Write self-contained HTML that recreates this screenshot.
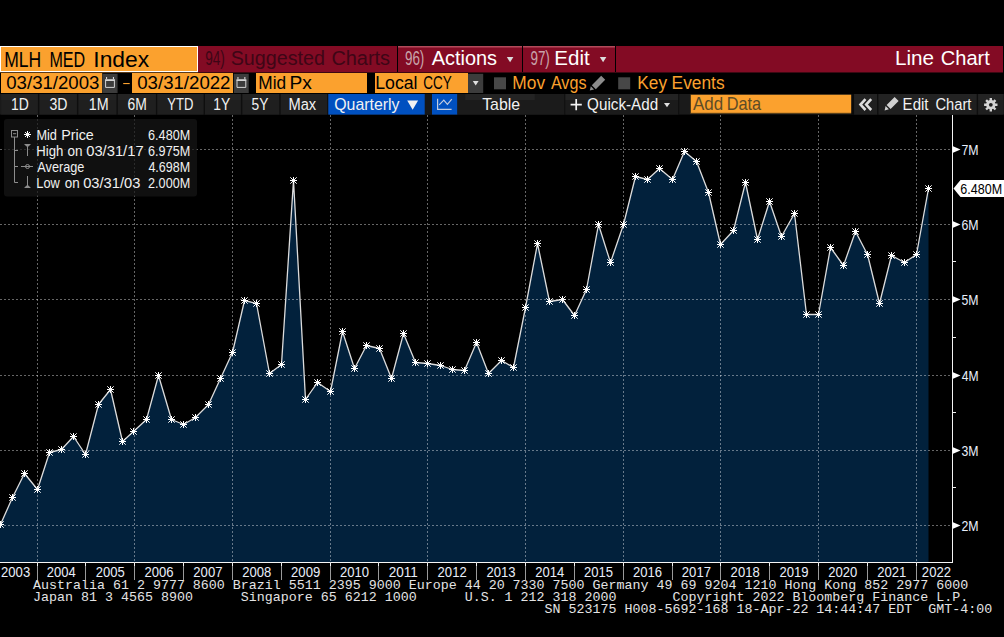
<!DOCTYPE html>
<html><head><meta charset="utf-8"><style>html,body{margin:0;padding:0;background:#000;}body{width:1004px;height:637px;position:relative;overflow:hidden;}text{white-space:pre;}</style></head><body>
<svg width="1004" height="637" viewBox="0 0 1004 637" style="position:absolute;left:0;top:0;font-family:'Liberation Sans',sans-serif"><path d="M0,562.0 L0,524.5 L0.5,524.5 L12.5,497.5 L24.5,473.5 L37.5,489.5 L49.5,452.5 L61.5,449.5 L73.5,436.5 L85.5,454.5 L98.5,404.5 L110.5,389.5 L122.5,441.5 L133.5,431.5 L146.5,419.5 L158.5,375.5 L171.5,419.5 L183.5,424.5 L195.5,417.5 L208.5,404.5 L220.5,378.5 L232.5,352.5 L244.5,300.5 L256.5,303.5 L269.5,373.5 L281.5,364.5 L293.5,180.5 L305.5,399.5 L317.5,382.5 L330.5,391.5 L342.5,331.5 L354.5,368.5 L366.5,345.5 L379.5,348.5 L391.5,378.5 L403.5,333.5 L415.5,362.5 L427.5,363.5 L440.5,365.5 L452.5,369.5 L464.5,370.5 L476.5,342.5 L488.5,373.5 L501.5,360.5 L513.5,367.5 L525.5,307.5 L537.5,243.5 L549.5,301.5 L562.5,299.5 L574.5,315.5 L586.5,289.5 L598.5,224.5 L610.5,262.5 L623.5,224.5 L635.5,176.5 L647.5,179.5 L659.5,168.5 L672.5,179.5 L684.5,151.5 L696.5,161.5 L708.5,192.5 L720.5,244.5 L733.5,230.5 L745.5,182.5 L757.5,239.5 L769.5,201.5 L781.5,236.5 L794.5,213.5 L806.5,314.5 L818.5,314.5 L830.5,247.5 L843.5,265.5 L855.5,231.5 L867.5,254.5 L879.5,303.5 L891.5,255.5 L904.5,262.5 L916.5,254.5 L928.5,188.5 L928.5,562.0 Z" fill="#02213c"/>
<path d="M0,149.5H952.0M0,224.5H952.0M0,299.5H952.0M0,375.5H952.0M0,450.5H952.0M0,525.5H952.0M37.5,115V562.0M134.5,115V562.0M232.5,115V562.0M330.5,115V562.0M427.5,115V562.0M525.5,115V562.0M623.5,115V562.0M720.5,115V562.0M818.5,115V562.0M916.5,115V562.0" stroke="#fff" stroke-opacity="0.4" stroke-width="1" stroke-dasharray="2 2" fill="none"/>
<polyline points="0.5,524.5 12.5,497.5 24.5,473.5 37.5,489.5 49.5,452.5 61.5,449.5 73.5,436.5 85.5,454.5 98.5,404.5 110.5,389.5 122.5,441.5 133.5,431.5 146.5,419.5 158.5,375.5 171.5,419.5 183.5,424.5 195.5,417.5 208.5,404.5 220.5,378.5 232.5,352.5 244.5,300.5 256.5,303.5 269.5,373.5 281.5,364.5 293.5,180.5 305.5,399.5 317.5,382.5 330.5,391.5 342.5,331.5 354.5,368.5 366.5,345.5 379.5,348.5 391.5,378.5 403.5,333.5 415.5,362.5 427.5,363.5 440.5,365.5 452.5,369.5 464.5,370.5 476.5,342.5 488.5,373.5 501.5,360.5 513.5,367.5 525.5,307.5 537.5,243.5 549.5,301.5 562.5,299.5 574.5,315.5 586.5,289.5 598.5,224.5 610.5,262.5 623.5,224.5 635.5,176.5 647.5,179.5 659.5,168.5 672.5,179.5 684.5,151.5 696.5,161.5 708.5,192.5 720.5,244.5 733.5,230.5 745.5,182.5 757.5,239.5 769.5,201.5 781.5,236.5 794.5,213.5 806.5,314.5 818.5,314.5 830.5,247.5 843.5,265.5 855.5,231.5 867.5,254.5 879.5,303.5 891.5,255.5 904.5,262.5 916.5,254.5 928.5,188.5" fill="none" stroke="#dcdcdc" stroke-width="1.3" stroke-linejoin="round"/>
<path d="M-3.0,524.5h7M0.5,521.0v7M-2.7,521.3l6.4,6.4M-2.7,527.7l6.4,-6.4M9.0,497.5h7M12.5,494.0v7M9.3,494.3l6.4,6.4M9.3,500.7l6.4,-6.4M21.0,473.5h7M24.5,470.0v7M21.3,470.3l6.4,6.4M21.3,476.7l6.4,-6.4M34.0,489.5h7M37.5,486.0v7M34.3,486.3l6.4,6.4M34.3,492.7l6.4,-6.4M46.0,452.5h7M49.5,449.0v7M46.3,449.3l6.4,6.4M46.3,455.7l6.4,-6.4M58.0,449.5h7M61.5,446.0v7M58.3,446.3l6.4,6.4M58.3,452.7l6.4,-6.4M70.0,436.5h7M73.5,433.0v7M70.3,433.3l6.4,6.4M70.3,439.7l6.4,-6.4M82.0,454.5h7M85.5,451.0v7M82.3,451.3l6.4,6.4M82.3,457.7l6.4,-6.4M95.0,404.5h7M98.5,401.0v7M95.3,401.3l6.4,6.4M95.3,407.7l6.4,-6.4M107.0,389.5h7M110.5,386.0v7M107.3,386.3l6.4,6.4M107.3,392.7l6.4,-6.4M119.0,441.5h7M122.5,438.0v7M119.3,438.3l6.4,6.4M119.3,444.7l6.4,-6.4M130.0,431.5h7M133.5,428.0v7M130.3,428.3l6.4,6.4M130.3,434.7l6.4,-6.4M143.0,419.5h7M146.5,416.0v7M143.3,416.3l6.4,6.4M143.3,422.7l6.4,-6.4M155.0,375.5h7M158.5,372.0v7M155.3,372.3l6.4,6.4M155.3,378.7l6.4,-6.4M168.0,419.5h7M171.5,416.0v7M168.3,416.3l6.4,6.4M168.3,422.7l6.4,-6.4M180.0,424.5h7M183.5,421.0v7M180.3,421.3l6.4,6.4M180.3,427.7l6.4,-6.4M192.0,417.5h7M195.5,414.0v7M192.3,414.3l6.4,6.4M192.3,420.7l6.4,-6.4M205.0,404.5h7M208.5,401.0v7M205.3,401.3l6.4,6.4M205.3,407.7l6.4,-6.4M217.0,378.5h7M220.5,375.0v7M217.3,375.3l6.4,6.4M217.3,381.7l6.4,-6.4M229.0,352.5h7M232.5,349.0v7M229.3,349.3l6.4,6.4M229.3,355.7l6.4,-6.4M241.0,300.5h7M244.5,297.0v7M241.3,297.3l6.4,6.4M241.3,303.7l6.4,-6.4M253.0,303.5h7M256.5,300.0v7M253.3,300.3l6.4,6.4M253.3,306.7l6.4,-6.4M266.0,373.5h7M269.5,370.0v7M266.3,370.3l6.4,6.4M266.3,376.7l6.4,-6.4M278.0,364.5h7M281.5,361.0v7M278.3,361.3l6.4,6.4M278.3,367.7l6.4,-6.4M290.0,180.5h7M293.5,177.0v7M290.3,177.3l6.4,6.4M290.3,183.7l6.4,-6.4M302.0,399.5h7M305.5,396.0v7M302.3,396.3l6.4,6.4M302.3,402.7l6.4,-6.4M314.0,382.5h7M317.5,379.0v7M314.3,379.3l6.4,6.4M314.3,385.7l6.4,-6.4M327.0,391.5h7M330.5,388.0v7M327.3,388.3l6.4,6.4M327.3,394.7l6.4,-6.4M339.0,331.5h7M342.5,328.0v7M339.3,328.3l6.4,6.4M339.3,334.7l6.4,-6.4M351.0,368.5h7M354.5,365.0v7M351.3,365.3l6.4,6.4M351.3,371.7l6.4,-6.4M363.0,345.5h7M366.5,342.0v7M363.3,342.3l6.4,6.4M363.3,348.7l6.4,-6.4M376.0,348.5h7M379.5,345.0v7M376.3,345.3l6.4,6.4M376.3,351.7l6.4,-6.4M388.0,378.5h7M391.5,375.0v7M388.3,375.3l6.4,6.4M388.3,381.7l6.4,-6.4M400.0,333.5h7M403.5,330.0v7M400.3,330.3l6.4,6.4M400.3,336.7l6.4,-6.4M412.0,362.5h7M415.5,359.0v7M412.3,359.3l6.4,6.4M412.3,365.7l6.4,-6.4M424.0,363.5h7M427.5,360.0v7M424.3,360.3l6.4,6.4M424.3,366.7l6.4,-6.4M437.0,365.5h7M440.5,362.0v7M437.3,362.3l6.4,6.4M437.3,368.7l6.4,-6.4M449.0,369.5h7M452.5,366.0v7M449.3,366.3l6.4,6.4M449.3,372.7l6.4,-6.4M461.0,370.5h7M464.5,367.0v7M461.3,367.3l6.4,6.4M461.3,373.7l6.4,-6.4M473.0,342.5h7M476.5,339.0v7M473.3,339.3l6.4,6.4M473.3,345.7l6.4,-6.4M485.0,373.5h7M488.5,370.0v7M485.3,370.3l6.4,6.4M485.3,376.7l6.4,-6.4M498.0,360.5h7M501.5,357.0v7M498.3,357.3l6.4,6.4M498.3,363.7l6.4,-6.4M510.0,367.5h7M513.5,364.0v7M510.3,364.3l6.4,6.4M510.3,370.7l6.4,-6.4M522.0,307.5h7M525.5,304.0v7M522.3,304.3l6.4,6.4M522.3,310.7l6.4,-6.4M534.0,243.5h7M537.5,240.0v7M534.3,240.3l6.4,6.4M534.3,246.7l6.4,-6.4M546.0,301.5h7M549.5,298.0v7M546.3,298.3l6.4,6.4M546.3,304.7l6.4,-6.4M559.0,299.5h7M562.5,296.0v7M559.3,296.3l6.4,6.4M559.3,302.7l6.4,-6.4M571.0,315.5h7M574.5,312.0v7M571.3,312.3l6.4,6.4M571.3,318.7l6.4,-6.4M583.0,289.5h7M586.5,286.0v7M583.3,286.3l6.4,6.4M583.3,292.7l6.4,-6.4M595.0,224.5h7M598.5,221.0v7M595.3,221.3l6.4,6.4M595.3,227.7l6.4,-6.4M607.0,262.5h7M610.5,259.0v7M607.3,259.3l6.4,6.4M607.3,265.7l6.4,-6.4M620.0,224.5h7M623.5,221.0v7M620.3,221.3l6.4,6.4M620.3,227.7l6.4,-6.4M632.0,176.5h7M635.5,173.0v7M632.3,173.3l6.4,6.4M632.3,179.7l6.4,-6.4M644.0,179.5h7M647.5,176.0v7M644.3,176.3l6.4,6.4M644.3,182.7l6.4,-6.4M656.0,168.5h7M659.5,165.0v7M656.3,165.3l6.4,6.4M656.3,171.7l6.4,-6.4M669.0,179.5h7M672.5,176.0v7M669.3,176.3l6.4,6.4M669.3,182.7l6.4,-6.4M681.0,151.5h7M684.5,148.0v7M681.3,148.3l6.4,6.4M681.3,154.7l6.4,-6.4M693.0,161.5h7M696.5,158.0v7M693.3,158.3l6.4,6.4M693.3,164.7l6.4,-6.4M705.0,192.5h7M708.5,189.0v7M705.3,189.3l6.4,6.4M705.3,195.7l6.4,-6.4M717.0,244.5h7M720.5,241.0v7M717.3,241.3l6.4,6.4M717.3,247.7l6.4,-6.4M730.0,230.5h7M733.5,227.0v7M730.3,227.3l6.4,6.4M730.3,233.7l6.4,-6.4M742.0,182.5h7M745.5,179.0v7M742.3,179.3l6.4,6.4M742.3,185.7l6.4,-6.4M754.0,239.5h7M757.5,236.0v7M754.3,236.3l6.4,6.4M754.3,242.7l6.4,-6.4M766.0,201.5h7M769.5,198.0v7M766.3,198.3l6.4,6.4M766.3,204.7l6.4,-6.4M778.0,236.5h7M781.5,233.0v7M778.3,233.3l6.4,6.4M778.3,239.7l6.4,-6.4M791.0,213.5h7M794.5,210.0v7M791.3,210.3l6.4,6.4M791.3,216.7l6.4,-6.4M803.0,314.5h7M806.5,311.0v7M803.3,311.3l6.4,6.4M803.3,317.7l6.4,-6.4M815.0,314.5h7M818.5,311.0v7M815.3,311.3l6.4,6.4M815.3,317.7l6.4,-6.4M827.0,247.5h7M830.5,244.0v7M827.3,244.3l6.4,6.4M827.3,250.7l6.4,-6.4M840.0,265.5h7M843.5,262.0v7M840.3,262.3l6.4,6.4M840.3,268.7l6.4,-6.4M852.0,231.5h7M855.5,228.0v7M852.3,228.3l6.4,6.4M852.3,234.7l6.4,-6.4M864.0,254.5h7M867.5,251.0v7M864.3,251.3l6.4,6.4M864.3,257.7l6.4,-6.4M876.0,303.5h7M879.5,300.0v7M876.3,300.3l6.4,6.4M876.3,306.7l6.4,-6.4M888.0,255.5h7M891.5,252.0v7M888.3,252.3l6.4,6.4M888.3,258.7l6.4,-6.4M901.0,262.5h7M904.5,259.0v7M901.3,259.3l6.4,6.4M901.3,265.7l6.4,-6.4M913.0,254.5h7M916.5,251.0v7M913.3,251.3l6.4,6.4M913.3,257.7l6.4,-6.4M925.0,188.5h7M928.5,185.0v7M925.3,185.3l6.4,6.4M925.3,191.7l6.4,-6.4" stroke="#fff" stroke-width="1" fill="none"/>
<g fill="#fff"><circle cx="0.5" cy="524.5" r="1.6"/><circle cx="12.5" cy="497.5" r="1.6"/><circle cx="24.5" cy="473.5" r="1.6"/><circle cx="37.5" cy="489.5" r="1.6"/><circle cx="49.5" cy="452.5" r="1.6"/><circle cx="61.5" cy="449.5" r="1.6"/><circle cx="73.5" cy="436.5" r="1.6"/><circle cx="85.5" cy="454.5" r="1.6"/><circle cx="98.5" cy="404.5" r="1.6"/><circle cx="110.5" cy="389.5" r="1.6"/><circle cx="122.5" cy="441.5" r="1.6"/><circle cx="133.5" cy="431.5" r="1.6"/><circle cx="146.5" cy="419.5" r="1.6"/><circle cx="158.5" cy="375.5" r="1.6"/><circle cx="171.5" cy="419.5" r="1.6"/><circle cx="183.5" cy="424.5" r="1.6"/><circle cx="195.5" cy="417.5" r="1.6"/><circle cx="208.5" cy="404.5" r="1.6"/><circle cx="220.5" cy="378.5" r="1.6"/><circle cx="232.5" cy="352.5" r="1.6"/><circle cx="244.5" cy="300.5" r="1.6"/><circle cx="256.5" cy="303.5" r="1.6"/><circle cx="269.5" cy="373.5" r="1.6"/><circle cx="281.5" cy="364.5" r="1.6"/><circle cx="293.5" cy="180.5" r="1.6"/><circle cx="305.5" cy="399.5" r="1.6"/><circle cx="317.5" cy="382.5" r="1.6"/><circle cx="330.5" cy="391.5" r="1.6"/><circle cx="342.5" cy="331.5" r="1.6"/><circle cx="354.5" cy="368.5" r="1.6"/><circle cx="366.5" cy="345.5" r="1.6"/><circle cx="379.5" cy="348.5" r="1.6"/><circle cx="391.5" cy="378.5" r="1.6"/><circle cx="403.5" cy="333.5" r="1.6"/><circle cx="415.5" cy="362.5" r="1.6"/><circle cx="427.5" cy="363.5" r="1.6"/><circle cx="440.5" cy="365.5" r="1.6"/><circle cx="452.5" cy="369.5" r="1.6"/><circle cx="464.5" cy="370.5" r="1.6"/><circle cx="476.5" cy="342.5" r="1.6"/><circle cx="488.5" cy="373.5" r="1.6"/><circle cx="501.5" cy="360.5" r="1.6"/><circle cx="513.5" cy="367.5" r="1.6"/><circle cx="525.5" cy="307.5" r="1.6"/><circle cx="537.5" cy="243.5" r="1.6"/><circle cx="549.5" cy="301.5" r="1.6"/><circle cx="562.5" cy="299.5" r="1.6"/><circle cx="574.5" cy="315.5" r="1.6"/><circle cx="586.5" cy="289.5" r="1.6"/><circle cx="598.5" cy="224.5" r="1.6"/><circle cx="610.5" cy="262.5" r="1.6"/><circle cx="623.5" cy="224.5" r="1.6"/><circle cx="635.5" cy="176.5" r="1.6"/><circle cx="647.5" cy="179.5" r="1.6"/><circle cx="659.5" cy="168.5" r="1.6"/><circle cx="672.5" cy="179.5" r="1.6"/><circle cx="684.5" cy="151.5" r="1.6"/><circle cx="696.5" cy="161.5" r="1.6"/><circle cx="708.5" cy="192.5" r="1.6"/><circle cx="720.5" cy="244.5" r="1.6"/><circle cx="733.5" cy="230.5" r="1.6"/><circle cx="745.5" cy="182.5" r="1.6"/><circle cx="757.5" cy="239.5" r="1.6"/><circle cx="769.5" cy="201.5" r="1.6"/><circle cx="781.5" cy="236.5" r="1.6"/><circle cx="794.5" cy="213.5" r="1.6"/><circle cx="806.5" cy="314.5" r="1.6"/><circle cx="818.5" cy="314.5" r="1.6"/><circle cx="830.5" cy="247.5" r="1.6"/><circle cx="843.5" cy="265.5" r="1.6"/><circle cx="855.5" cy="231.5" r="1.6"/><circle cx="867.5" cy="254.5" r="1.6"/><circle cx="879.5" cy="303.5" r="1.6"/><circle cx="891.5" cy="255.5" r="1.6"/><circle cx="904.5" cy="262.5" r="1.6"/><circle cx="916.5" cy="254.5" r="1.6"/><circle cx="928.5" cy="188.5" r="1.6"/></g>
<path d="M0,562.5H953.0M952.5,115V562.5" stroke="#f4f4f4" stroke-width="1" fill="none"/>
<path d="M37.5,562.5V580M85.5,562.5V580M134.5,562.5V580M183.5,562.5V580M232.5,562.5V580M281.5,562.5V580M330.5,562.5V580M378.5,562.5V580M427.5,562.5V580M476.5,562.5V580M525.5,562.5V580M574.5,562.5V580M623.5,562.5V580M672.5,562.5V580M720.5,562.5V580M769.5,562.5V580M818.5,562.5V580M867.5,562.5V580M916.5,562.5V580" stroke="#9a9a9a" stroke-width="1" fill="none"/>
<path d="M37.5,562.5V566M85.5,562.5V566M134.5,562.5V566M183.5,562.5V566M232.5,562.5V566M281.5,562.5V566M330.5,562.5V566M378.5,562.5V566M427.5,562.5V566M476.5,562.5V566M525.5,562.5V566M574.5,562.5V566M623.5,562.5V566M672.5,562.5V566M720.5,562.5V566M769.5,562.5V566M818.5,562.5V566M867.5,562.5V566M916.5,562.5V566" stroke="#f0f0f0" stroke-width="1" fill="none"/>
<text transform="translate(1.05,576.5) scale(0.9514,1)" font-size="13.77" fill="#e8eefa">2003</text>
<text transform="translate(46.85,576.5) scale(0.9447,1)" font-size="13.77" fill="#e8eefa">2004</text>
<text transform="translate(95.72,576.5) scale(0.9491,1)" font-size="13.77" fill="#e8eefa">2005</text>
<text transform="translate(144.53,576.5) scale(0.9514,1)" font-size="13.77" fill="#e8eefa">2006</text>
<text transform="translate(193.33,576.5) scale(0.9536,1)" font-size="13.77" fill="#e8eefa">2007</text>
<text transform="translate(242.21,576.5) scale(0.9491,1)" font-size="13.77" fill="#e8eefa">2008</text>
<text transform="translate(291.09,576.5) scale(0.9514,1)" font-size="13.77" fill="#e8eefa">2009</text>
<text transform="translate(339.89,576.5) scale(0.9491,1)" font-size="13.77" fill="#e8eefa">2010</text>
<text transform="translate(388.68,576.5) scale(0.9861,1)" font-size="13.77" fill="#e8eefa">2011</text>
<text transform="translate(437.57,576.5) scale(0.9536,1)" font-size="13.77" fill="#e8eefa">2012</text>
<text transform="translate(486.45,576.5) scale(0.9514,1)" font-size="13.77" fill="#e8eefa">2013</text>
<text transform="translate(535.26,576.5) scale(0.9447,1)" font-size="13.77" fill="#e8eefa">2014</text>
<text transform="translate(584.07,576.5) scale(0.9491,1)" font-size="13.77" fill="#e8eefa">2015</text>
<text transform="translate(632.94,576.5) scale(0.9514,1)" font-size="13.77" fill="#e8eefa">2016</text>
<text transform="translate(681.81,576.5) scale(0.9536,1)" font-size="13.77" fill="#e8eefa">2017</text>
<text transform="translate(730.62,576.5) scale(0.9491,1)" font-size="13.77" fill="#e8eefa">2018</text>
<text transform="translate(779.43,576.5) scale(0.9514,1)" font-size="13.77" fill="#e8eefa">2019</text>
<text transform="translate(828.31,576.5) scale(0.9491,1)" font-size="13.77" fill="#e8eefa">2020</text>
<text transform="translate(877.18,576.5) scale(0.9514,1)" font-size="13.77" fill="#e8eefa">2021</text>
<text transform="translate(921.84,576.5) scale(0.9536,1)" font-size="13.77" fill="#e8eefa">2022</text>
<path d="M953,146.3L960.5,149.5L953,152.7Z" fill="#fff"/>
<text transform="translate(961.38,154.5) scale(0.8696,1)" font-size="14.20" fill="#e8eefa">7M</text>
<path d="M953,221.3L960.5,224.5L953,227.7Z" fill="#fff"/>
<text transform="translate(961.38,229.5) scale(0.8696,1)" font-size="14.20" fill="#e8eefa">6M</text>
<path d="M953,296.3L960.5,299.5L953,302.7Z" fill="#fff"/>
<text transform="translate(961.51,304.5) scale(0.8627,1)" font-size="14.20" fill="#e8eefa">5M</text>
<path d="M953,372.3L960.5,375.5L953,378.7Z" fill="#fff"/>
<text transform="translate(961.70,380.5) scale(0.8526,1)" font-size="14.20" fill="#e8eefa">4M</text>
<path d="M953,447.3L960.5,450.5L953,453.7Z" fill="#fff"/>
<text transform="translate(961.51,455.5) scale(0.8627,1)" font-size="14.20" fill="#e8eefa">3M</text>
<path d="M953,522.3L960.5,525.5L953,528.7Z" fill="#fff"/>
<text transform="translate(961.38,530.5) scale(0.8696,1)" font-size="14.20" fill="#e8eefa">2M</text>
<path d="M953,261.5H956M953,337.5H956M953,412.5H956M953,487.5H956" stroke="#f0f0f0" stroke-width="1"/>
<path d="M953.5,188.5L960.5,180H1004V197H960.5Z" fill="#fff"/>
<text transform="translate(960.37,193.7) scale(0.8922,1)" font-size="14.06" fill="#000">6.480M</text>
<rect x="0" y="46" width="198" height="26" fill="#fff"/>
<rect x="1" y="47" width="196" height="24" fill="#fba12e"/>
<text transform="translate(4.20,66.9) scale(0.7659,1)" font-size="22.90" fill="#000">MLH</text>
<text transform="translate(49.41,66.9) scale(0.7046,1)" font-size="22.90" fill="#000">MED</text>
<text transform="translate(93.35,66.9) scale(1.0091,1)" font-size="22.61" fill="#000">Index</text>
<rect x="198" y="46" width="805" height="26" fill="#830b24"/>
<rect x="397" y="46" width="1" height="26" fill="#000"/>
<rect x="522" y="46" width="1" height="26" fill="#000"/>
<rect x="615" y="46" width="1" height="26" fill="#000"/>
<rect x="198" y="72" width="805" height="1" fill="#3c0812"/>
<rect x="0" y="72" width="198" height="1" fill="#5a3a18"/>
<rect x="398" y="46" width="124" height="1.5" fill="#b24a5a"/>
<rect x="523" y="46" width="92" height="1.5" fill="#b24a5a"/>
<text transform="translate(205.19,64.6) scale(0.7020,1)" font-size="19.42" fill="#3e0616">94)</text>
<text transform="translate(230.71,64.6) scale(1.0006,1)" font-size="19.71" fill="#3e0616">Suggested</text>
<text transform="translate(331.40,64.6) scale(1.0112,1)" font-size="19.71" fill="#3e0616">Charts</text>
<text transform="translate(404.89,64.7) scale(0.6943,1)" font-size="19.42" fill="#c8a3aa">96)</text>
<text transform="translate(431.70,64.7) scale(1.0116,1)" font-size="19.71" fill="#fff">Actions</text>
<path d="M506.8,57H513.4L510.1,62.3Z" fill="#dcdcdc"/>
<text transform="translate(530.39,64.7) scale(0.6943,1)" font-size="19.42" fill="#c8a3aa">97)</text>
<text transform="translate(554.36,64.7) scale(1.0426,1)" font-size="19.71" fill="#fff">Edit</text>
<path d="M599.8,57H606.4L603.1,62.3Z" fill="#dcdcdc"/>
<text transform="translate(894.95,65) scale(1.0192,1)" font-size="20.29" fill="#fff">Line</text>
<text transform="translate(940.80,65) scale(0.9898,1)" font-size="20.29" fill="#fff">Chart</text>
<rect x="1" y="73" width="101.2" height="20" fill="#fba12e"/>
<text transform="translate(6.26,88.8) scale(0.9958,1)" font-size="18.70" fill="#000">03/31/2003</text>
<rect x="102.4" y="73.8" width="15" height="19.2" fill="#3c3c3c"/>
<rect x="116.9" y="73.8" width="0.6" height="19.2" fill="#2a2a2a"/>
<path d="M105.60000000000001,80.3V87.39999999999999H114.4V80.3" fill="none" stroke="#d4d4d4" stroke-width="1"/>
<rect x="105.10000000000001" y="79.2" width="9.8" height="1.8" fill="#d4d4d4"/>
<rect x="106.0" y="77.0" width="1.1" height="2.2" fill="#d4d4d4"/>
<rect x="112.9" y="77.0" width="1.1" height="2.2" fill="#d4d4d4"/>
<rect x="123.2" y="83" width="6.5" height="1.1" fill="#fba12e"/>
<rect x="132" y="73" width="101" height="20" fill="#fba12e"/>
<text transform="translate(137.25,88.8) scale(0.9969,1)" font-size="18.70" fill="#000">03/31/2022</text>
<rect x="233.8" y="73.8" width="15" height="19.2" fill="#3c3c3c"/>
<rect x="248.3" y="73.8" width="0.6" height="19.2" fill="#2a2a2a"/>
<path d="M237.0,80.3V87.39999999999999H245.8V80.3" fill="none" stroke="#d4d4d4" stroke-width="1"/>
<rect x="236.5" y="79.2" width="9.8" height="1.8" fill="#d4d4d4"/>
<rect x="237.4" y="77.0" width="1.1" height="2.2" fill="#d4d4d4"/>
<rect x="244.3" y="77.0" width="1.1" height="2.2" fill="#d4d4d4"/>
<rect x="256" y="73" width="111" height="20" fill="#fba12e"/>
<text transform="translate(258.32,88.8) scale(0.9237,1)" font-size="18.70" fill="#000">Mid</text>
<text transform="translate(289.47,88.8) scale(1.0250,1)" font-size="18.70" fill="#000">Px</text>
<rect x="375" y="73" width="93" height="20" fill="#fba12e"/>
<text transform="translate(375.18,88.8) scale(0.9483,1)" font-size="18.70" fill="#000">Local</text>
<text transform="translate(423.23,88.8) scale(0.7210,1)" font-size="18.70" fill="#000">CCY</text>
<rect x="468" y="73.8" width="15.2" height="19.2" fill="#3c3c3c"/>
<path d="M472.8,81H478.6L475.7,85.5Z" fill="#e0e0e0"/>
<rect x="494" y="77.3" width="12" height="12" fill="#474747"/>
<rect x="618.2" y="77.3" width="12" height="12" fill="#474747"/>
<text transform="translate(512.31,88.8) scale(0.9275,1)" font-size="18.70" fill="#fba12e">Mov</text>
<text transform="translate(550.92,88.8) scale(0.8622,1)" font-size="18.70" fill="#fba12e">Avgs</text>
<path d="M589.8,90.6L590.8,86.2L594.1,89.5Z M591.8,85.2L601.2,75.8L605.2,79.8L595.8,89.2Z" fill="#8c8c8c"/>
<text transform="translate(637.32,88.8) scale(0.9230,1)" font-size="18.70" fill="#fba12e">Key</text>
<text transform="translate(671.61,88.8) scale(0.9279,1)" font-size="18.70" fill="#fba12e">Events</text>
<rect x="0" y="94" width="1004" height="20.6" fill="#1a1a1a"/>
<rect x="1.1" y="94" width="36.8" height="20.6" fill="#1f1f1f"/>
<rect x="1.1" y="94" width="36.8" height="6" fill="#232323"/>
<rect x="39.1" y="94" width="37.79999999999999" height="20.6" fill="#1f1f1f"/>
<rect x="39.1" y="94" width="37.79999999999999" height="6" fill="#232323"/>
<rect x="78.1" y="94" width="38.3" height="20.6" fill="#1f1f1f"/>
<rect x="78.1" y="94" width="38.3" height="6" fill="#232323"/>
<rect x="117.6" y="94" width="38.2" height="20.6" fill="#1f1f1f"/>
<rect x="117.6" y="94" width="38.2" height="6" fill="#232323"/>
<rect x="157" y="94" width="46.60000000000001" height="20.6" fill="#1f1f1f"/>
<rect x="157" y="94" width="46.60000000000001" height="6" fill="#232323"/>
<rect x="204.8" y="94" width="36.09999999999998" height="20.6" fill="#1f1f1f"/>
<rect x="204.8" y="94" width="36.09999999999998" height="6" fill="#232323"/>
<rect x="242.1" y="94" width="37.09999999999998" height="20.6" fill="#1f1f1f"/>
<rect x="242.1" y="94" width="37.09999999999998" height="6" fill="#232323"/>
<rect x="280.4" y="94" width="46.60000000000001" height="20.6" fill="#1f1f1f"/>
<rect x="280.4" y="94" width="46.60000000000001" height="6" fill="#232323"/>
<rect x="38.1" y="94" width="1.2" height="20.6" fill="#0e0e0e"/>
<rect x="77.1" y="94" width="1.2" height="20.6" fill="#0e0e0e"/>
<rect x="116.6" y="94" width="1.2" height="20.6" fill="#0e0e0e"/>
<rect x="156" y="94" width="1.2" height="20.6" fill="#0e0e0e"/>
<rect x="203.8" y="94" width="1.2" height="20.6" fill="#0e0e0e"/>
<rect x="241.1" y="94" width="1.2" height="20.6" fill="#0e0e0e"/>
<rect x="279.4" y="94" width="1.2" height="20.6" fill="#0e0e0e"/>
<rect x="327.2" y="94" width="1.2" height="20.6" fill="#0e0e0e"/>
<text transform="translate(11.05,109.7) scale(0.8744,1)" font-size="15.94" fill="#f2f2f2">1D</text>
<text transform="translate(49.44,109.7) scale(0.8856,1)" font-size="15.94" fill="#f2f2f2">3D</text>
<text transform="translate(88.73,109.7) scale(0.8976,1)" font-size="15.94" fill="#f2f2f2">1M</text>
<text transform="translate(127.50,109.7) scale(0.8747,1)" font-size="15.94" fill="#f2f2f2">6M</text>
<text transform="translate(167.27,109.7) scale(0.8190,1)" font-size="15.94" fill="#f2f2f2">YTD</text>
<text transform="translate(213.26,109.7) scale(0.8698,1)" font-size="15.94" fill="#f2f2f2">1Y</text>
<text transform="translate(251.55,109.7) scale(0.8652,1)" font-size="15.94" fill="#f2f2f2">5Y</text>
<text transform="translate(288.43,109.7) scale(0.9200,1)" font-size="15.94" fill="#f2f2f2">Max</text>
<rect x="328.3" y="94" width="96.4" height="20.6" fill="#0050c0"/>
<text transform="translate(334.18,109.7) scale(0.9981,1)" font-size="15.94" fill="#f2f2f2">Quarterly</text>
<path d="M407.2,100.5H418.1L412.65,109.7Z" fill="#f2f2f2"/>
<rect x="425" y="94" width="7" height="20.6" fill="#161616"/>
<rect x="432" y="94" width="25.4" height="20.6" fill="#0050c0"/>
<path d="M437.6,98.7V109.4H451.6" stroke="#c4cde0" stroke-width="1.2" fill="none"/><path d="M439.2,104.9L443.8,100.2L447.4,104.4L451.8,99.2" stroke="#c4cde0" stroke-width="1.2" fill="none"/>
<rect x="457.4" y="94" width="107" height="20.6" fill="#1b1b1b"/>
<rect x="465.2" y="94" width="69.6" height="6" fill="#242424"/>
<text transform="translate(482.18,109.7) scale(0.9982,1)" font-size="15.94" fill="#f2f2f2">Table</text>
<rect x="564.4" y="94" width="1.1" height="20.6" fill="#0e0e0e"/>
<rect x="565.5" y="94" width="112.7" height="20.6" fill="#1b1b1b"/>
<rect x="565.5" y="94" width="112.7" height="6" fill="#232323"/>
<rect x="678.2" y="94" width="1" height="20.6" fill="#0e0e0e"/>
<path d="M570.6,104.6H581.8M576.2,99V110.2" stroke="#f2f2f2" stroke-width="1.7"/>
<text transform="translate(587.12,109.7) scale(0.9543,1)" font-size="15.94" fill="#f2f2f2">Quick-Add</text>
<path d="M664,103H670L667,107.2Z" fill="#e0e0e0"/>
<rect x="690.3" y="94.5" width="161.1" height="19.3" fill="#6a4a1a"/>
<rect x="691" y="94.9" width="160.4" height="17.9" fill="#fba12e"/>
<text transform="translate(692.92,110.3) scale(0.9361,1)" font-size="18.12" fill="#5e4c26">Add</text>
<text transform="translate(726.70,110.3) scale(0.9001,1)" font-size="18.12" fill="#5e4c26">Data</text>
<rect x="851.4" y="94" width="2.7" height="20.6" fill="#0a0a0a"/>
<rect x="854.1" y="94" width="23" height="20.6" fill="#1f1f1f"/>
<rect x="854.1" y="94" width="23" height="6" fill="#232323"/>
<path d="M865.5,99.2L860.5,104.6L865.5,110M871.2,99.2L866.2,104.6L871.2,110" stroke="#dcdcdc" stroke-width="2.6" fill="none" stroke-linejoin="miter"/>
<rect x="877.1" y="94" width="1.5" height="20.6" fill="#0e0e0e"/>
<rect x="878.6" y="94" width="98.2" height="20.6" fill="#1f1f1f"/>
<rect x="878.6" y="94" width="98.2" height="6" fill="#232323"/>
<path d="M884.6,110.4L885.6,106L888.9,109.3Z M886.6,105L894.6,97L898.6,101L890.6,109Z" fill="#cfcfcf"/>
<text transform="translate(902.60,109.7) scale(0.9438,1)" font-size="15.94" fill="#f2f2f2">Edit</text>
<text transform="translate(935.46,109.7) scale(0.9238,1)" font-size="15.94" fill="#f2f2f2">Chart</text>
<rect x="976.8" y="94" width="1.3" height="20.6" fill="#0e0e0e"/>
<rect x="978.1" y="94" width="25" height="20.6" fill="#1f1f1f"/>
<rect x="978.1" y="94" width="25" height="6" fill="#232323"/>
<g transform="translate(990.8,104.8)"><path d="M0,-6.7V6.7M-6.7,0H6.7M-4.7,-4.7L4.7,4.7M-4.7,4.7L4.7,-4.7" stroke="#d4d4d4" stroke-width="2.4"/><circle r="4.7" fill="#d4d4d4"/><circle r="1.9" fill="#1f1f1f"/></g>
<rect x="4" y="119" width="193" height="77.5" rx="3" fill="#161616" fill-opacity="0.72"/>
<text transform="translate(36.38,139.8) scale(0.8808,1)" font-size="14.49" fill="#f0f0f0">Mid</text>
<text transform="translate(61.15,139.8) scale(0.9885,1)" font-size="14.49" fill="#f0f0f0">Price</text>
<text transform="translate(36.35,156) scale(0.9068,1)" font-size="14.49" fill="#f0f0f0">High</text>
<text transform="translate(67.46,156) scale(0.9337,1)" font-size="14.49" fill="#f0f0f0">on</text>
<text transform="translate(86.21,156) scale(1.0187,1)" font-size="14.49" fill="#f0f0f0">03/31/17</text>
<text transform="translate(37.34,171.8) scale(0.8760,1)" font-size="14.49" fill="#f0f0f0">Average</text>
<text transform="translate(36.37,188) scale(0.8846,1)" font-size="14.49" fill="#f0f0f0">Low</text>
<text transform="translate(64.76,188) scale(0.9269,1)" font-size="14.49" fill="#f0f0f0">on</text>
<text transform="translate(83.21,188) scale(1.0137,1)" font-size="14.49" fill="#f0f0f0">03/31/03</text>
<text transform="translate(148.07,139.8) scale(0.8989,1)" font-size="14.06" fill="#f0f0f0">6.480M</text>
<text transform="translate(148.07,156) scale(0.8989,1)" font-size="14.06" fill="#f0f0f0">6.975M</text>
<text transform="translate(148.39,171.8) scale(0.8919,1)" font-size="14.06" fill="#f0f0f0">4.698M</text>
<text transform="translate(148.07,188) scale(0.8989,1)" font-size="14.06" fill="#f0f0f0">2.000M</text>
<rect x="11.5" y="130.5" width="6" height="6.5" fill="none" stroke="#8c8c8c" stroke-width="1"/><path d="M13,133.7H16.2M14.5,137V182.5H18M14.5,150.5H18M14.5,166.5H18" stroke="#8c8c8c" stroke-width="1" fill="none"/>
<path d="M24,134.5H31M27.5,131V138M25,132L30,137M25,137L30,132" stroke="#fff" stroke-width="1"/><circle cx="27.5" cy="134.5" r="1.5" fill="#fff"/>
<path d="M27.5,144.5V156M21,166.5H33M27.5,176V187.5" stroke="#8c8c8c" stroke-width="1" fill="none"/><path d="M24,144H31L28.5,146.5H26.5Z M24,188H31L28.5,185.5H26.5Z" fill="#8c8c8c"/><circle cx="27.5" cy="166.5" r="2" fill="none" stroke="#8c8c8c" stroke-width="1"/>
<text transform="translate(33,589) scale(1,0.9)" font-family="Liberation Mono" font-size="13.333" fill="#e4e4e4" xml:space="preserve">Australia 61 2 9777 8600 Brazil 5511 2395 9000 Europe 44 20 7330 7500 Germany 49 69 9204 1210 Hong Kong 852 2977 6000</text>
<text transform="translate(33,601) scale(1,0.9)" font-family="Liberation Mono" font-size="13.333" fill="#e4e4e4" xml:space="preserve">Japan 81 3 4565 8900      Singapore 65 6212 1000      U.S. 1 212 318 2000       Copyright 2022 Bloomberg Finance L.P.</text>
<text transform="translate(33,612.6) scale(1,0.9)" font-family="Liberation Mono" font-size="13.333" fill="#e4e4e4" xml:space="preserve">                                                                SN 523175 H008-5692-168 18-Apr-22 14:44:47 EDT  GMT-4:00</text></svg>
</body></html>
